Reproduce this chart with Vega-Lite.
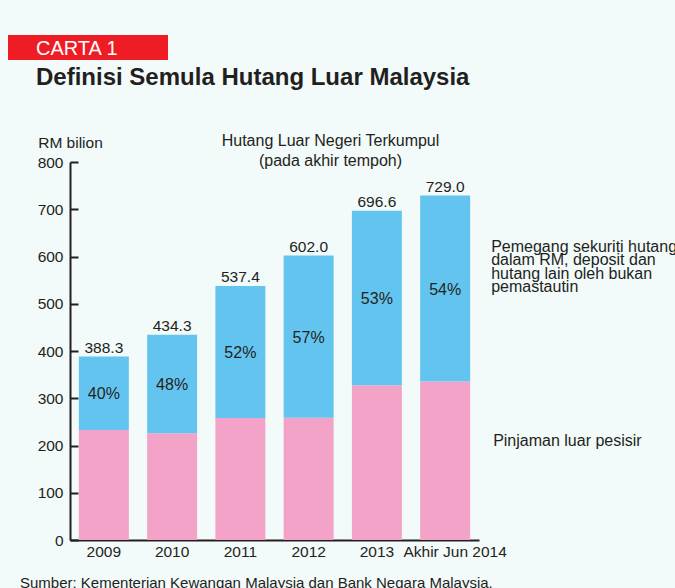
{
  "$schema": "https://vega.github.io/schema/vega-lite/v6.json",
  "autosize": {"type": "none"},
  "padding": {"left": 8, "top": 35, "right": 667, "bottom": 553},
  "background": "#f2fafa",
  "config": {
    "font": "Liberation Sans",
    "view": {"stroke": null},
    "text": {"color": "#231f20", "font": "Liberation Sans"},
    "title": {"color": "#231f20", "font": "Liberation Sans"}
  },
  "title": {
    "text": "Sumber: Kementerian Kewangan Malaysia dan Bank Negara Malaysia.",
    "orient": "bottom", "anchor": "start", "frame": "bounds",
    "dx": 12, "offset": 28, "baseline": "alphabetic",
    "fontSize": 15, "fontWeight": "normal", "color": "#231f20"
  },
  "spacing": 43,
  "vconcat": [
    {
      "width": 160,
      "height": 25,
      "view": {"fill": "#ee1c25", "stroke": null},
      "data": {"values": [{"label": "CARTA 1"}]},
      "mark": {"type": "text", "align": "left", "baseline": "middle", "dx": -52, "dy": 1, "fontSize": 20, "color": "#ffffff"},
      "encoding": {"text": {"field": "label", "type": "nominal"}},
      "title": {
        "text": "Definisi Semula Hutang Luar Malaysia",
        "orient": "bottom", "anchor": "start", "frame": "bounds",
        "dx": 28, "offset": 25, "baseline": "alphabetic",
        "fontSize": 24, "fontWeight": "bold", "color": "#231f20"
      }
    },
    {
      "spacing": 28,
      "hconcat": [
        {
          "width": 1,
          "height": 1,
          "data": {"values": [{"s": ""}]},
          "mark": {"type": "text"},
          "encoding": {"text": {"field": "s", "type": "nominal"}}
        },
        {
          "width": 409,
          "height": 378,
          "data": {
            "values": [
              {"year": "2009", "pinjaman": 233.0, "total": 388.3, "pct": "40%"},
              {"year": "2010", "pinjaman": 225.8, "total": 434.3, "pct": "48%"},
              {"year": "2011", "pinjaman": 258.0, "total": 537.4, "pct": "52%"},
              {"year": "2012", "pinjaman": 258.9, "total": 602.0, "pct": "57%"},
              {"year": "2013", "pinjaman": 327.4, "total": 696.6, "pct": "53%"},
              {"year": "Akhir Jun 2014", "pinjaman": 335.3, "total": 729.0, "pct": "54%"}
            ]
          },
          "title": {
            "text": ["Hutang Luar Negeri Terkumpul", "(pada akhir tempoh)"],
            "anchor": "middle", "frame": "group", "dx": 56, "offset": -50,
            "baseline": "bottom", "lineHeight": 20,
            "fontSize": 16, "fontWeight": "normal", "color": "#231f20"
          },
          "encoding": {
            "x": {
              "field": "year", "type": "nominal", "sort": null,
              "scale": {"paddingInner": 0.268, "paddingOuter": 0.13},
              "axis": {
                "title": null, "labelAngle": 0, "ticks": false,
                "domainColor": "#231f20", "domainWidth": 2,
                "labelFontSize": 15.5, "labelColor": "#231f20", "labelPadding": 4,
                "labelOffset": {"condition": {"test": "datum.value === 'Akhir Jun 2014'", "value": 10}, "value": 0}
              }
            }
          },
          "layer": [
            {
              "mark": {"type": "bar", "color": "#f3a3c7"},
              "encoding": {
                "y": {
                  "field": "pinjaman", "type": "quantitative",
                  "scale": {"domain": [0, 800], "nice": false},
                  "axis": {
                    "title": "RM bilion", "titleAngle": 0, "titleAlign": "center", "titleBaseline": "middle",
                    "titleX": 0, "titleY": -20, "titleFontSize": 15.5, "titleFontWeight": "normal", "titleColor": "#231f20",
                    "values": [0, 100, 200, 300, 400, 500, 600, 700, 800],
                    "tickSize": -8, "tickWidth": 2, "tickColor": "#231f20",
                    "domainColor": "#231f20", "domainWidth": 2,
                    "labelPadding": 15, "labelFontSize": 15.5, "labelColor": "#231f20", "grid": false
                  }
                }
              }
            },
            {
              "mark": {"type": "bar", "color": "#63c5ef"},
              "encoding": {
                "y": {"field": "pinjaman", "type": "quantitative"},
                "y2": {"field": "total"}
              }
            },
            {
              "mark": {"type": "text", "baseline": "alphabetic", "dy": -4, "fontSize": 15.5},
              "encoding": {
                "y": {"field": "total", "type": "quantitative"},
                "text": {"field": "total", "type": "quantitative", "format": ".1f"}
              }
            },
            {
              "transform": [{"fold": ["pinjaman", "total"], "as": ["k", "v"]}],
              "mark": {"type": "text", "baseline": "middle", "dy": 1, "fontSize": 16},
              "encoding": {
                "y": {"field": "v", "aggregate": "mean", "type": "quantitative"},
                "text": {"field": "pct", "type": "nominal"}
              }
            },
            {
              "transform": [{"filter": "datum.year === 'Akhir Jun 2014'"}],
              "mark": {
                "type": "text", "align": "left", "baseline": "alphabetic",
                "dx": 46, "dy": 56, "fontSize": 16, "lineHeight": 13.5,
                "text": ["Pemegang sekuriti hutang", "dalam RM, deposit dan", "hutang lain oleh bukan", "pemastautin"]
              },
              "encoding": {
                "y": {"field": "total", "type": "quantitative"}
              }
            },
            {
              "transform": [{"filter": "datum.year === 'Akhir Jun 2014'"}],
              "mark": {
                "type": "text", "align": "left", "baseline": "alphabetic",
                "dx": 48, "dy": 64.4, "fontSize": 16,
                "text": "Pinjaman luar pesisir"
              },
              "encoding": {
                "y": {"field": "pinjaman", "type": "quantitative"}
              }
            }
          ]
        }
      ]
    }
  ]
}
